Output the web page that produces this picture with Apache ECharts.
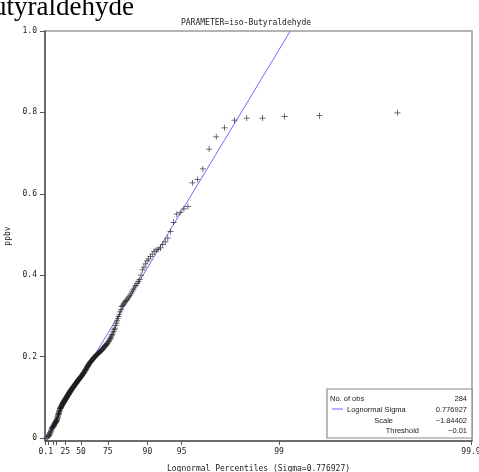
<!DOCTYPE html>
<html>
<head>
<meta charset="utf-8">
<script src="https://cdn.jsdelivr.net/npm/echarts@6/dist/echarts.min.js"></script>
<style>
  html, body { margin: 0; padding: 0; background: #fff; }
  #chart { width: 479px; height: 472px; }
</style>
</head>
<body>
<div id="chart"></div>
<script>
// Sorted iso-Butyraldehyde concentrations (284 observations)
const concentrations = [
  0.000, 0.002, 0.004, 0.006, 0.008, 0.010, 0.013, 0.016, 0.019, 0.022,
  0.024, 0.025, 0.026, 0.027, 0.028, 0.029, 0.030, 0.031, 0.033, 0.034,
  0.035, 0.036, 0.037, 0.038, 0.039, 0.040, 0.041, 0.042, 0.043, 0.044,
  0.046, 0.048, 0.050, 0.052, 0.054, 0.056, 0.058, 0.059, 0.060, 0.062,
  0.064, 0.066, 0.068, 0.070, 0.072, 0.073, 0.073, 0.074, 0.075, 0.076,
  0.077, 0.078, 0.079, 0.080, 0.081, 0.082, 0.083, 0.084, 0.085, 0.086,
  0.087, 0.087, 0.088, 0.089, 0.090, 0.090, 0.091, 0.092, 0.093, 0.094,
  0.095, 0.095, 0.096, 0.097, 0.098, 0.098, 0.099, 0.100, 0.101, 0.102,
  0.103, 0.103, 0.104, 0.105, 0.106, 0.107, 0.107, 0.108, 0.109, 0.110,
  0.111, 0.111, 0.112, 0.113, 0.114,
  0.115, 0.115, 0.116, 0.117, 0.118, 0.118, 0.119, 0.120, 0.121, 0.121,
  0.122, 0.123, 0.124, 0.124, 0.125, 0.126,
  0.127, 0.127, 0.128, 0.129, 0.130, 0.131, 0.131, 0.132, 0.133, 0.134,
  0.134, 0.135, 0.136, 0.137, 0.137, 0.138, 0.139, 0.140, 0.141,
  0.142, 0.142, 0.143, 0.144, 0.145, 0.146, 0.146, 0.147, 0.148, 0.149,
  0.150, 0.150, 0.151, 0.152, 0.153, 0.154, 0.155, 0.156, 0.157, 0.158, 0.159,
  0.160, 0.161, 0.162, 0.164, 0.165, 0.166, 0.167, 0.168, 0.169, 0.171,
  0.172, 0.173, 0.175, 0.176,
  0.177, 0.178, 0.180, 0.181, 0.182, 0.184, 0.185, 0.186, 0.187, 0.188,
  0.189, 0.190, 0.191, 0.192, 0.193, 0.195, 0.196,
  0.197, 0.198, 0.199, 0.200, 0.201, 0.202, 0.203, 0.204, 0.205, 0.206,
  0.207, 0.208, 0.209, 0.210, 0.211, 0.212, 0.213, 0.214, 0.215, 0.216,
  0.218, 0.219, 0.221, 0.222, 0.224, 0.225, 0.227, 0.228, 0.230, 0.231,
  0.233, 0.234,
  0.237, 0.240, 0.243, 0.245, 0.248, 0.251, 0.254, 0.258, 0.262, 0.266, 0.270,
  0.276, 0.282, 0.288, 0.293, 0.298, 0.304, 0.310, 0.316, 0.323,
  0.326, 0.329, 0.332, 0.335, 0.338, 0.341, 0.344, 0.347, 0.351, 0.356,
  0.361, 0.366, 0.371, 0.375, 0.380, 0.385, 0.389,
  0.400, 0.413, 0.420, 0.428, 0.435, 0.440, 0.446,
  0.452, 0.458, 0.462, 0.464, 0.467, 0.475, 0.482, 0.491, 0.507, 0.530,
  0.550, 0.554, 0.563, 0.569, 0.627, 0.635, 0.661, 0.710, 0.740, 0.762,
  0.781, 0.786, 0.786, 0.790, 0.792, 0.799
];

// Fitted lognormal parameters
const sigma = 0.776927;
const scale = -1.84402;
const threshold = -0.01;

// Percentile axis ticks
const tickPercents = [0.1, 1, 5, 10, 25, 50, 75, 90, 95, 99, 99.9];
const labelPercents = [0.1, 25, 50, 75, 90, 95, 99, 99.9];
const yTicks = [0, 0.2, 0.4, 0.6, 0.8, 1.0];

// Inverse standard normal CDF (Acklam's rational approximation)
function normInv(p) {
  const a = [-3.969683028665376e+01, 2.209460984245205e+02, -2.759285104469687e+02,
             1.383577518672690e+02, -3.066479806614716e+01, 2.506628277459239e+00];
  const b = [-5.447609879822406e+01, 1.615858368580409e+02, -1.556989798598866e+02,
             6.680131188771972e+01, -1.328068155288572e+01];
  const c = [-7.784894002430293e-03, -3.223964580411365e-01, -2.400758277161838e+00,
             -2.549671346054919e+00, 4.374664141464968e+00, 2.938163982698783e+00];
  const d = [7.784695709041462e-03, 3.224671290700398e-01, 2.445134137142996e+00,
             3.754408661907416e+00];
  const plow = 0.02425, phigh = 1 - plow;
  let q, r;
  if (p < plow) {
    q = Math.sqrt(-2 * Math.log(p));
    return (((((c[0]*q+c[1])*q+c[2])*q+c[3])*q+c[4])*q+c[5]) /
           ((((d[0]*q+d[1])*q+d[2])*q+d[3])*q+1);
  }
  if (p <= phigh) {
    q = p - 0.5; r = q * q;
    return (((((a[0]*r+a[1])*r+a[2])*r+a[3])*r+a[4])*r+a[5])*q /
           (((((b[0]*r+b[1])*r+b[2])*r+b[3])*r+b[4])*r+1);
  }
  q = Math.sqrt(-2 * Math.log(1 - p));
  return -(((((c[0]*q+c[1])*q+c[2])*q+c[3])*q+c[4])*q+c[5]) /
          ((((d[0]*q+d[1])*q+d[2])*q+d[3])*q+1);
}

// Lognormal probability scale: position = exp(sigma * z(p))
const toAxis = pct => Math.exp(sigma * normInv(pct / 100));

const n = concentrations.length;
// Blom plotting positions
const points = concentrations.map((v, i) => [Math.exp(sigma * normInv((i + 1 - 0.375) / (n + 0.25))), v]);

// Reference line of the fitted distribution
const lineAt = x => threshold + Math.exp(scale) * x;
const xStart = toAxis(0.1);
const xEnd = (1.0 - threshold) / Math.exp(scale);
const fitLine = [[xStart, lineAt(xStart)], [xEnd, lineAt(xEnd)]];

const tickValues = tickPercents.map(toAxis);
const labelValues = labelPercents.map(toAxis);

const mono = 'DejaVu Sans Mono';
const legendFont = '7.5px "Liberation Sans"';

const chart = echarts.init(document.getElementById('chart'), null, { renderer: 'canvas' });

chart.setOption({
  animation: false,
  backgroundColor: '#fff',
  title: {
    text: 'PARAMETER=iso-Butyraldehyde',
    left: 241, top: 14, textAlign: 'center',
    textStyle: { fontFamily: mono, fontSize: 8, fontWeight: 'normal', color: '#222' }
  },
  grid: {
    left: 45, right: 7, top: 31, bottom: 31,
    outerBoundsMode: 'none',
    containLabel: false,
    show: true, borderColor: '#9a9a9a', borderWidth: 1.5, backgroundColor: '#fff'
  },
  xAxis: {
    type: 'value',
    min: 0.072, max: 11.06,
    name: 'Lognormal Percentiles (Sigma=0.776927)',
    nameLocation: 'middle', nameGap: 24,
    nameTextStyle: { fontFamily: mono, fontSize: 8, color: '#222' },
    axisLine: { onZero: false, lineStyle: { color: '#555', width: 1.5 } },
    axisTick: { show: true, length: 4, customValues: tickValues, lineStyle: { color: '#555' } },
    axisLabel: {
      customValues: labelValues, margin: 7,
      fontFamily: mono, fontSize: 8, color: '#222',
      formatter: v => {
        let best = 0;
        labelValues.forEach((lv, i) => { if (Math.abs(lv - v) < Math.abs(labelValues[best] - v)) best = i; });
        return String(labelPercents[best]);
      }
    },
    splitLine: { show: false }
  },
  yAxis: {
    type: 'value',
    min: -0.0074, max: 1.0,
    name: 'ppbv',
    nameLocation: 'middle', nameGap: 31, nameRotate: 90,
    nameTextStyle: { fontFamily: mono, fontSize: 8, color: '#222' },
    axisLine: { onZero: false, lineStyle: { color: '#555', width: 1.5 } },
    axisTick: { show: true, length: 5, customValues: yTicks, lineStyle: { color: '#555' } },
    axisLabel: {
      customValues: yTicks, margin: 8,
      fontFamily: mono, fontSize: 8, color: '#222',
      formatter: v => (Math.abs(v) < 1e-9 ? '0' : v.toFixed(1))
    },
    splitLine: { show: false }
  },
  series: [
    {
      type: 'line',
      data: fitLine,
      showSymbol: false,
      symbol: 'none',
      lineStyle: { color: '#6b6bff', width: 1 },
      clip: true,
      silent: true,
      z: 2
    },
    {
      type: 'scatter',
      data: points,
      symbol: 'path://M0,4.4H10V5.6H0ZM4.4,0H5.6V10H4.4Z',
      symbolSize: 6,
      itemStyle: { color: '#1e1e1e', opacity: 0.85 },
      silent: true,
      z: 3
    }
  ],
  graphic: [
    {
      type: 'text',
      x: 134, y: 8,
      style: {
        text: 'iso-Butyraldehyde',
        font: '27px "Liberation Serif"',
        fill: '#000',
        align: 'right',
        verticalAlign: 'middle'
      }
    },
    {
      type: 'group', x: 327, y: 389,
      children: [
        { type: 'rect', shape: { x: 0, y: 0, width: 145, height: 49 },
          style: { fill: '#fff', stroke: '#8a8a8a', lineWidth: 1.2 } },
        { type: 'text', x: 3, y: 10, style: { text: 'No. of obs', font: legendFont, fill: '#222', verticalAlign: 'middle' } },
        { type: 'text', x: 140, y: 10, style: { text: String(n), font: legendFont, fill: '#222', align: 'right', verticalAlign: 'middle' } },
        { type: 'line', shape: { x1: 5, y1: 20, x2: 16, y2: 20 }, style: { stroke: '#9a9aff', lineWidth: 1.5 } },
        { type: 'text', x: 20, y: 20.5, style: { text: 'Lognormal Sigma', font: legendFont, fill: '#222', verticalAlign: 'middle' } },
        { type: 'text', x: 140, y: 20.5, style: { text: sigma.toString(), font: legendFont, fill: '#222', align: 'right', verticalAlign: 'middle' } },
        { type: 'text', x: 66, y: 31.5, style: { text: 'Scale', font: legendFont, fill: '#222', align: 'right', verticalAlign: 'middle' } },
        { type: 'text', x: 140, y: 31.5, style: { text: '\u2212' + Math.abs(scale).toString(), font: legendFont, fill: '#222', align: 'right', verticalAlign: 'middle' } },
        { type: 'text', x: 92, y: 42, style: { text: 'Threshold', font: legendFont, fill: '#222', align: 'right', verticalAlign: 'middle' } },
        { type: 'text', x: 140, y: 42, style: { text: '\u2212' + Math.abs(threshold).toString(), font: legendFont, fill: '#222', align: 'right', verticalAlign: 'middle' } }
      ]
    }
  ]
});
</script>
</body>
</html>
